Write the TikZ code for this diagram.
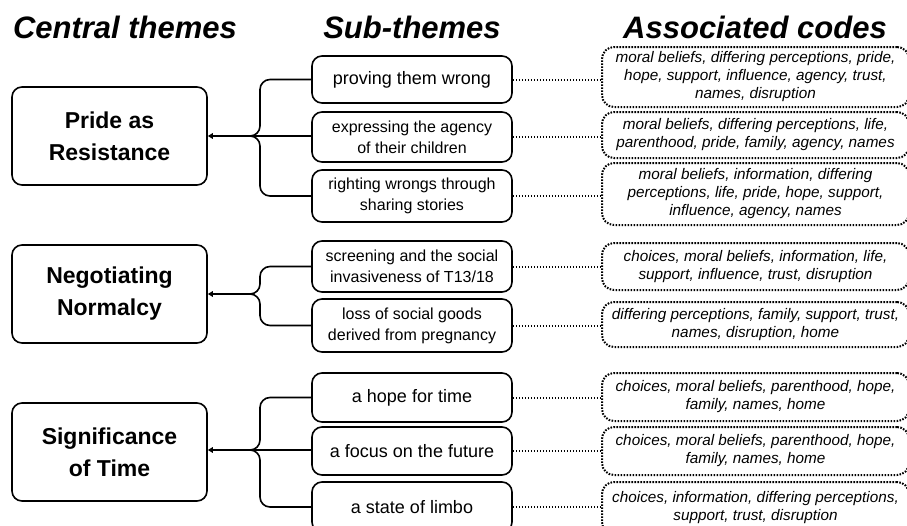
\documentclass[tikz,border=0pt]{standalone}
\usepackage{fontspec}
\setmainfont{Liberation Sans}
\usetikzlibrary{arrows.meta}
\tikzset{
  hdr/.style={font=\fontsize{31}{34}\selectfont\bfseries\itshape, anchor=base},
  central/.style={draw, line width=1.6pt, rounded corners=10pt, minimum width=195pt, minimum height=98pt, inner sep=0pt, align=center, font=\fontsize{23}{32}\selectfont\bfseries},
  sub/.style={draw, line width=1.6pt, rounded corners=10pt, minimum width=200pt, inner sep=0pt, align=center, font=\fontsize{16}{21}\selectfont},
  subone/.style={sub, font=\fontsize{18}{21}\selectfont},
  codes/.style={draw, line width=2pt, dash pattern=on 1.6pt off 1.4pt, rounded corners=12pt, minimum width=307pt, inner sep=0pt, align=center, font=\fontsize{15.3}{18}\selectfont\itshape},
  dotcon/.style={line width=2pt, dash pattern=on 1.6pt off 1.4pt},
  branch/.style={line width=1.6pt, rounded corners=10pt},
  arr/.style={line width=1.6pt, -{Triangle[length=5pt,width=5.5pt]}},
}
\begin{document}
\begin{tikzpicture}[x=1pt,y=-1pt]
\useasboundingbox (0,0) rectangle (907,525);
\clip (0,0) rectangle (907,525);
\fill[white] (0,0) rectangle (907,525);

\node[hdr] (h1) at (125,38) {Central themes};
\node[hdr] (h2) at (412,38) {Sub-themes};
\node[hdr] (h3) at (755,38) {Associated codes};

% central themes
\node[central] (t1) at (109.5,136) {Pride as\\Resistance};
\node[central] (t2) at (109.5,294) {Negotiating\\Normalcy};
\node[central] (t3) at (109.5,452) {Significance\\of Time};

% sub-themes
\node[subone, minimum height=47pt] (s1) at (412,79.5) {proving them wrong};
\node[sub, minimum height=50pt] (s2) at (412,137) {expressing the agency\\of their children};
\node[sub, minimum height=52pt] (s3) at (412,196) {righting wrongs through\\sharing stories};
\node[sub, minimum height=51pt] (s4) at (412,266.5) {screening and the social\\invasiveness of T13/18};
\node[sub, minimum height=53pt] (s5) at (412,325.5) {loss of social goods\\derived from pregnancy};
\node[subone, minimum height=49pt] (s6) at (412,397.5) {a hope for time};
\node[subone, minimum height=48pt] (s7) at (412,451) {a focus on the future};
\node[subone, minimum height=50pt] (s8) at (412,507) {a state of limbo};

% codes
\node[codes, minimum height=60pt] (c1) at (755.5,77) {moral beliefs, differing perceptions, pride,\\hope, support, influence, agency, trust,\\names, disruption};
\node[codes, minimum height=46pt] (c2) at (755.5,135) {moral beliefs, differing perceptions, life,\\parenthood, pride, family, agency, names};
\node[codes, minimum height=62pt] (c3) at (755.5,194) {moral beliefs, information, differing\\perceptions, life, pride, hope, support,\\influence, agency, names};
\node[codes, minimum height=47pt] (c4) at (755.5,266.5) {choices, moral beliefs, information, life,\\support, influence, trust, disruption};
\node[codes, minimum height=45pt] (c5) at (755.5,324.5) {differing perceptions, family, support, trust,\\names, disruption, home};
\node[codes, minimum height=48pt] (c6) at (755.5,397) {choices, moral beliefs, parenthood, hope,\\family, names, home};
\node[codes, minimum height=48pt] (c7) at (755.5,451) {choices, moral beliefs, parenthood, hope,\\family, names, home};
\node[codes, minimum height=52pt] (c8) at (755.5,508) {choices, information, differing perceptions,\\support, trust, disruption};

% dotted connectors
\foreach \i in {1,...,8} {
  \draw[dotcon] (s\i.east) -- (s\i.east -| c\i.west);
}

% junctions
\coordinate (j1) at (251,136);
\coordinate (j2) at (251,294);
\coordinate (j3) at (251,450);

% branches group 1
\draw[branch] (s1.west) -- (260,79.5) -- (260,136) -- (j1);
\draw[branch] (s2.west |- j1) -- (j1);
\draw[branch] (s3.west) -- (260,196) -- (260,136) -- (j1);
\draw[arr] (j1) -- (t1.east |- j1);
% group 2
\draw[branch] (s4.west) -- (260,266.5) -- (260,294) -- (j2);
\draw[branch] (s5.west) -- (260,325.5) -- (260,294) -- (j2);
\draw[arr] (j2) -- (t2.east |- j2);
% group 3
\draw[branch] (s6.west) -- (260,397.5) -- (260,450) -- (j3);
\draw[branch] (s7.west |- j3) -- (j3);
\draw[branch] (s8.west) -- (260,507) -- (260,450) -- (j3);
\draw[arr] (j3) -- (t3.east |- j3);
\end{tikzpicture}
\end{document}
